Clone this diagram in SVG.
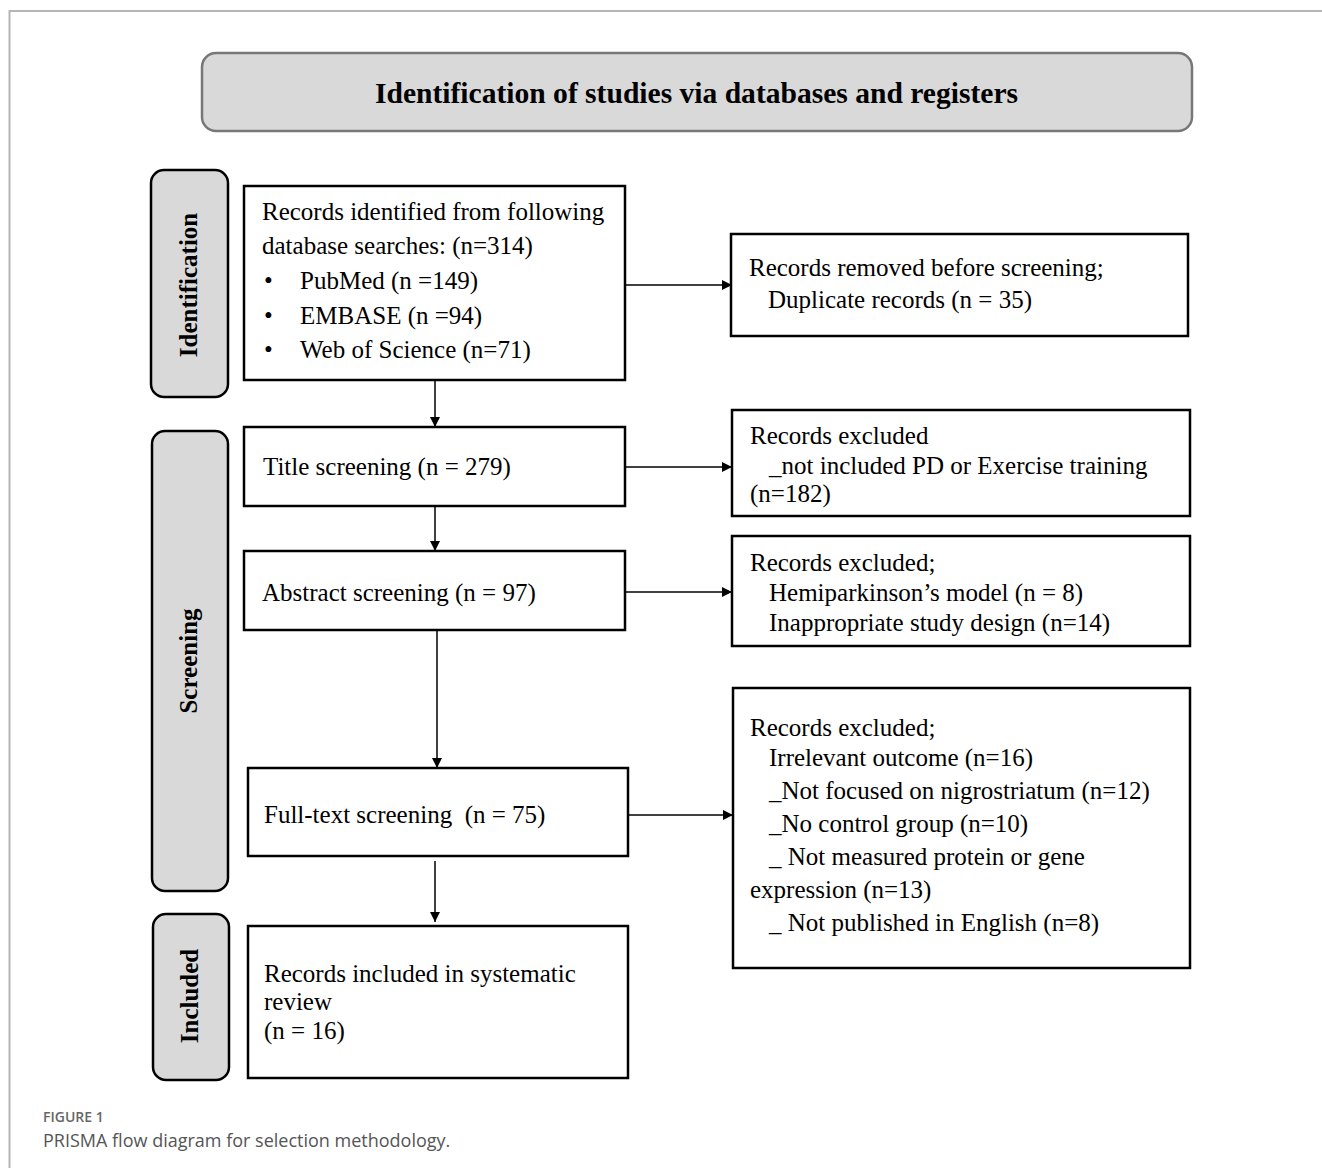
<svg xmlns="http://www.w3.org/2000/svg" width="1322" height="1168" viewBox="0 0 1322 1168">
<defs>
<style>
.box{fill:#fff;stroke:#000;stroke-width:2.5}
.side{fill:#d9d9d9;stroke:#000;stroke-width:2.5}
.t{font-family:"Liberation Serif","Times New Roman",serif;font-size:25px;fill:#000}
.sl{font-family:"Liberation Serif","Times New Roman",serif;font-size:25px;font-weight:bold;fill:#000}
.c{stroke:#000;stroke-width:1.5;fill:none}
</style>
<marker id="ah" viewBox="0 0 10 10" refX="10" refY="5" markerWidth="10" markerHeight="10" markerUnits="userSpaceOnUse" orient="auto">
<path d="M0,0 L10,5 L0,10 Z" fill="#000"/>
</marker>
</defs>
<rect width="1322" height="1168" fill="#fff"/>
<path d="M9.5,1168 V11 H1322" fill="none" stroke="#b5b5b5" stroke-width="2"/>

<g id="header">
<rect x="202" y="53" width="990" height="78" rx="14" fill="#d9d9d9" stroke="#777" stroke-width="2.5"/>
<text x="375" y="103" font-family="Liberation Serif, serif" font-weight="bold" font-size="30" textLength="643" lengthAdjust="spacingAndGlyphs">Identification of studies via databases and registers</text>
</g>

<g id="label-identification">
<rect class="side" x="151" y="170" width="77" height="227" rx="13"/>
<text class="sl" transform="translate(197,285) rotate(-90)" text-anchor="middle">Identification</text>
</g>
<g id="label-screening">
<rect class="side" x="152" y="431" width="76" height="460" rx="13"/>
<text class="sl" transform="translate(197,661) rotate(-90)" text-anchor="middle">Screening</text>
</g>
<g id="label-included">
<rect class="side" x="153" y="914" width="76" height="166" rx="13"/>
<text class="sl" transform="translate(198,996) rotate(-90)" text-anchor="middle">Included</text>
</g>

<g id="connectors">
<line class="c" x1="626" y1="285" x2="732" y2="285" marker-end="url(#ah)"/>
<line class="c" x1="435" y1="380" x2="435" y2="427" marker-end="url(#ah)"/>
<line class="c" x1="626" y1="467" x2="732" y2="467" marker-end="url(#ah)"/>
<line class="c" x1="435" y1="506" x2="435" y2="551" marker-end="url(#ah)"/>
<line class="c" x1="626" y1="592" x2="732" y2="592" marker-end="url(#ah)"/>
<line class="c" x1="437" y1="630" x2="437" y2="768" marker-end="url(#ah)"/>
<line class="c" x1="629" y1="815" x2="733" y2="815" marker-end="url(#ah)"/>
<line class="c" x1="435" y1="861" x2="435" y2="922" marker-end="url(#ah)"/>
</g>

<g id="records-identified">
<rect class="box" x="244" y="186" width="381" height="194"/>
<text class="t" x="262" y="220">Records identified from following</text>
<text class="t" x="262" y="254">database searches: (n=314)</text>
<text class="t" x="264" y="289">•</text>
<text class="t" x="300" y="289">PubMed (n =149)</text>
<text class="t" x="264" y="324">•</text>
<text class="t" x="300" y="324">EMBASE (n =94)</text>
<text class="t" x="264" y="358">•</text>
<text class="t" x="300" y="358">Web of Science (n=71)</text>
</g>

<g id="records-removed">
<rect class="box" x="731" y="234" width="457" height="102"/>
<text class="t" x="749" y="276">Records removed before screening;</text>
<text class="t" x="768" y="308">Duplicate records (n = 35)</text>
</g>

<g id="title-screening">
<rect class="box" x="244" y="427" width="381" height="79"/>
<text class="t" x="263" y="475">Title screening (n = 279)</text>
</g>

<g id="excluded-title">
<rect class="box" x="732" y="410" width="458" height="106"/>
<text class="t" x="750" y="444">Records excluded</text>
<text class="t" x="769" y="474">_not included PD or Exercise training</text>
<text class="t" x="750" y="502">(n=182)</text>
</g>

<g id="abstract-screening">
<rect class="box" x="244" y="551" width="381" height="79"/>
<text class="t" x="262" y="601">Abstract screening (n = 97)</text>
</g>

<g id="excluded-abstract">
<rect class="box" x="732" y="536" width="458" height="110"/>
<text class="t" x="750" y="571">Records excluded;</text>
<text class="t" x="769" y="601">Hemiparkinson’s model (n = 8)</text>
<text class="t" x="769" y="631">Inappropriate study design (n=14)</text>
</g>

<g id="fulltext-screening">
<rect class="box" x="248" y="768" width="380" height="88"/>
<text class="t" x="264" y="823" xml:space="preserve">Full-text screening  (n = 75)</text>
</g>

<g id="excluded-fulltext">
<rect class="box" x="733" y="688" width="457" height="280"/>
<text class="t" x="750" y="736">Records excluded;</text>
<text class="t" x="769" y="766">Irrelevant outcome (n=16)</text>
<text class="t" x="769" y="799">_Not focused on nigrostriatum (n=12)</text>
<text class="t" x="769" y="832">_No control group (n=10)</text>
<text class="t" x="769" y="865">_ Not measured protein or gene</text>
<text class="t" x="750" y="898">expression (n=13)</text>
<text class="t" x="769" y="931">_ Not published in English (n=8)</text>
</g>

<g id="included">
<rect class="box" x="248" y="926" width="380" height="152"/>
<text class="t" x="264" y="982">Records included in systematic</text>
<text class="t" x="264" y="1010">review</text>
<text class="t" x="264" y="1039">(n = 16)</text>
</g>

<g id="caption">
<text x="43" y="1122" font-family="Open Sans, sans-serif" font-size="14" font-weight="600" fill="#666">FIGURE 1</text>
<text x="43" y="1147" font-family="Open Sans, sans-serif" font-size="18" fill="#555">PRISMA flow diagram for selection methodology.</text>
</g>
</svg>
